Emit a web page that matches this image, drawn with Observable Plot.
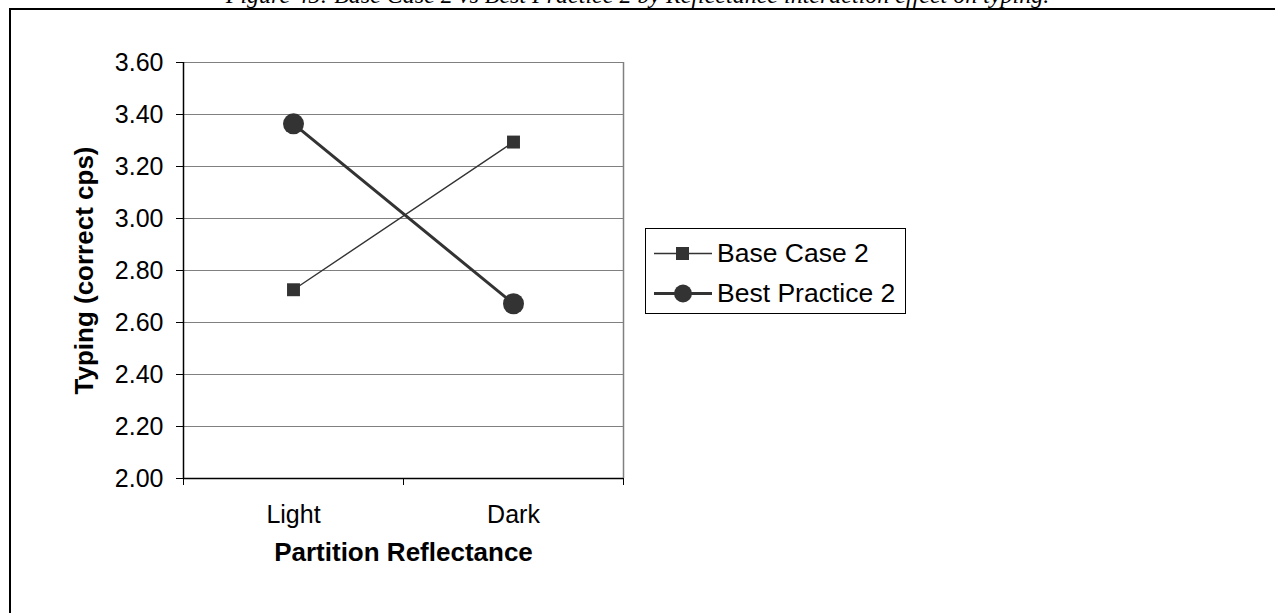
<!DOCTYPE html>
<html>
<head>
<meta charset="utf-8">
<script src="https://cdn.jsdelivr.net/npm/d3@7"></script>
<script src="https://cdn.jsdelivr.net/npm/@observablehq/plot@0.6"></script>
<style>
  html, body { margin: 0; padding: 0; background: #fff; width: 1275px; height: 613px; overflow: hidden; }
  #title { position: absolute; left: 0; width: 1275px; top: -17px; text-align: center;
    font-family: "Liberation Serif", "Times New Roman", serif; font-style: italic; font-size: 24px; line-height: 24px; color: #000; white-space: nowrap; }
  #border { position: absolute; left: 9px; top: 8px; width: 1400px; height: 800px; border-left: 2px solid #000; border-top: 2px solid #000; }
  #chart { position: absolute; left: 0; top: 0; }
  #legend { position: absolute; left: 645px; top: 228px; width: 259px; height: 84px; border: 1px solid #000; background: #fff;
    font-family: "Liberation Sans", Arial, sans-serif; font-size: 26.5px; color: #000; }
  .row { position: absolute; left: 0; height: 30px; display: flex; align-items: center; }
  .row svg { margin-left: 8px; }
  .row span { margin-left: 5px; white-space: nowrap; }
</style>
</head>
<body>
<div id="title">Figure 45: Base Case 2 vs Best Practice 2 by Reflectance interaction effect on typing.</div>
<div id="border"></div>
<div id="chart"></div>
<div id="legend"></div>
<script>
const categories = ["Light", "Dark"];
const seriesNames = ["Base Case 2", "Best Practice 2"];
const baseCase2 = [2.726, 3.294];
const bestPractice2 = [3.364, 2.672];
const yTicks = [2.0, 2.2, 2.4, 2.6, 2.8, 3.0, 3.2, 3.4, 3.6];
const xLabel = "Partition Reflectance";
const yLabel = "Typing (correct cps)";

const rows = [];
categories.forEach((c, i) => {
  rows.push({series: seriesNames[0], cat: c, xi: i + 0.5, value: baseCase2[i]});
  rows.push({series: seriesNames[1], cat: c, xi: i + 0.5, value: bestPractice2[i]});
});
const base = rows.filter(d => d.series === seriesNames[0]);
const best = rows.filter(d => d.series === seriesNames[1]);
const ink = "#333333";

const chart = Plot.plot({
  width: 1275,
  height: 613,
  marginLeft: 183,
  marginRight: 652,
  marginTop: 62,
  marginBottom: 135,
  style: {fontFamily: "'Liberation Sans', Arial, sans-serif", background: "transparent", color: "#000"},
  x: {domain: [0, categories.length]},
  y: {domain: [2.0, 3.6]},
  marks: [
    Plot.gridY(yTicks, {stroke: "#808080", strokeOpacity: 1, strokeWidth: 1}),
    Plot.ruleX([categories.length], {stroke: "#808080", strokeWidth: 1.5}),
    Plot.ruleX([0], {stroke: "#000", strokeWidth: 1.5}),
    Plot.ruleY([2.0], {stroke: "#000", strokeWidth: 1.5}),
    Plot.axisY({ticks: yTicks, tickFormat: d3.format(".2f"), tickSize: 7, tickPadding: 13, fontSize: 25, stroke: "#000", label: null}),
    Plot.axisX({ticks: d3.range(categories.length + 1), tickFormat: () => "", tickSize: 7, stroke: "#000", label: null}),
    Plot.axisX({ticks: categories.map((c, i) => i + 0.5), tickFormat: v => categories[Math.floor(v)], tickSize: 0, tickPadding: 27, fontSize: 25, label: null}),
    Plot.text([xLabel], {frameAnchor: "bottom", dy: 74, textAnchor: "middle", lineAnchor: "middle", fontSize: 26, fontWeight: "bold", fill: "#000"}),
    Plot.text([yLabel], {frameAnchor: "left", dx: -99, rotate: -90, textAnchor: "middle", lineAnchor: "middle", fontSize: 26, fontWeight: "bold", fill: "#000"}),
    Plot.line(base, {x: "xi", y: "value", stroke: ink, strokeWidth: 1.4}),
    Plot.line(best, {x: "xi", y: "value", stroke: ink, strokeWidth: 3}),
    Plot.dot(base, {x: "xi", y: "value", symbol: "square", r: 7.3, fill: ink, stroke: "none"}),
    Plot.dot(best, {x: "xi", y: "value", symbol: "circle", r: 10.5, fill: ink, stroke: "none"})
  ]
});
document.getElementById("chart").appendChild(chart);

// legend
const legend = document.getElementById("legend");
const legendItems = [
  {name: seriesNames[0], width: 1.4, symbol: "square"},
  {name: seriesNames[1], width: 3, symbol: "circle"}
];
legendItems.forEach((item, i) => {
  const row = document.createElement("div");
  row.className = "row";
  row.style.top = (i === 0 ? 9 : 49) + "px";
  const marker = item.symbol === "square"
    ? `<rect x="22" y="8" width="13" height="13" fill="${ink}"/>`
    : `<circle cx="29" cy="14.5" r="9" fill="${ink}"/>`;
  row.innerHTML = `<svg width="58" height="29"><line x1="0" x2="58" y1="14.5" y2="14.5" stroke="${ink}" stroke-width="${item.width}"/>${marker}</svg><span>${item.name}</span>`;
  legend.appendChild(row);
});
</script>
</body>
</html>
